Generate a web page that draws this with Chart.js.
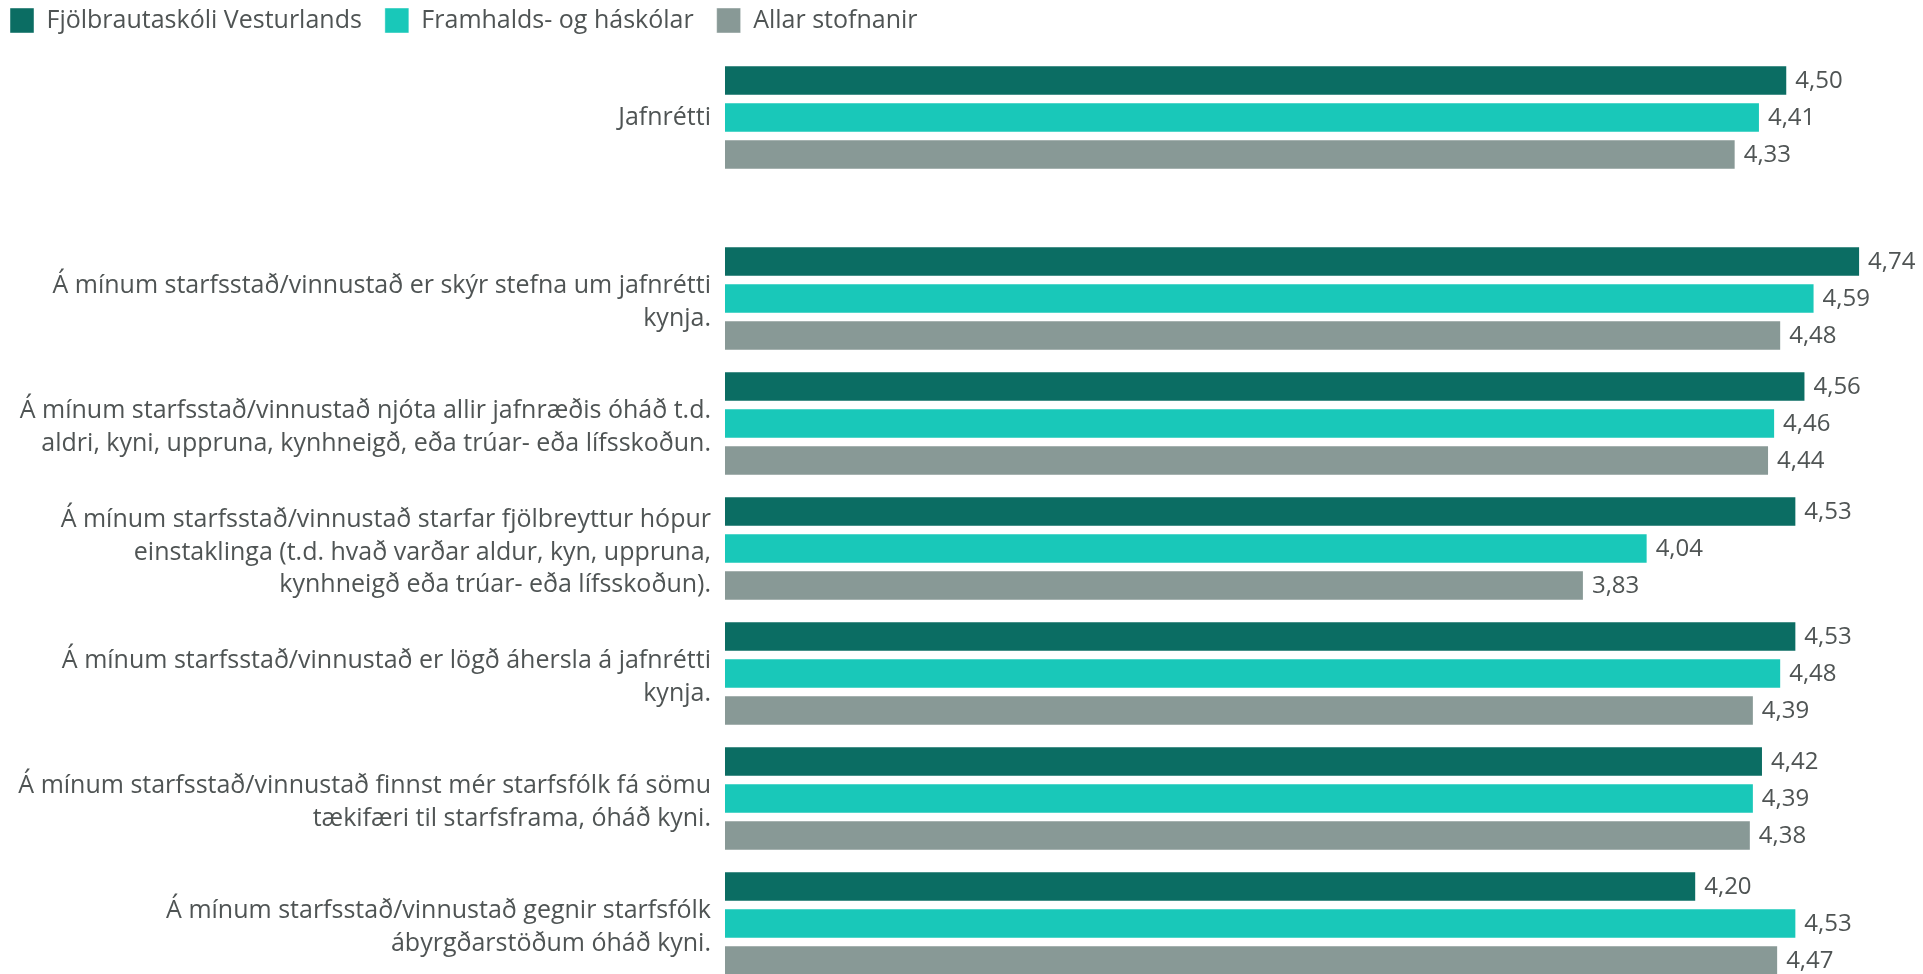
<!DOCTYPE html>
<html>
<head>
<meta charset="utf-8">
<script src="https://cdn.jsdelivr.net/npm/chart.js@4.4.1/dist/chart.umd.min.js"></script>
<style>
  html, body { margin: 0; padding: 0; background: #fff; overflow: hidden; }
  #wrap { position: relative; width: 1923px; height: 974px; overflow: hidden; }
  #topChart { position: absolute; left: -13px; top: -15px; }
  #itemChart { position: absolute; left: 0; top: 236px; }
</style>
</head>
<body>
<div id="wrap">
  <canvas id="topChart" width="1952" height="195"></canvas>
  <canvas id="itemChart" width="1939" height="750"></canvas>
</div>
<script>
// Jafnrétti - survey means, three groups

var categories = [
  ['Jafnrétti'],
  ['Á mínum starfsstað/vinnustað er skýr stefna um jafnrétti', 'kynja.'],
  ['Á mínum starfsstað/vinnustað njóta allir jafnræðis óháð t.d.', 'aldri, kyni, uppruna, kynhneigð, eða trúar- eða lífsskoðun.'],
  ['Á mínum starfsstað/vinnustað starfar fjölbreyttur hópur', 'einstaklinga (t.d. hvað varðar aldur, kyn, uppruna,', 'kynhneigð eða trúar- eða lífsskoðun).'],
  ['Á mínum starfsstað/vinnustað er lögð áhersla á jafnrétti', 'kynja.'],
  ['Á mínum starfsstað/vinnustað finnst mér starfsfólk fá sömu', 'tækifæri til starfsframa, óháð kyni.'],
  ['Á mínum starfsstað/vinnustað gegnir starfsfólk', 'ábyrgðarstöðum óháð kyni.']
];

var seriesNames = ['Fjölbrautaskóli Vesturlands', 'Framhalds- og háskólar', 'Allar stofnanir'];

var fjolbrautValues = [4.50, 4.74, 4.56, 4.53, 4.53, 4.42, 4.20];
var framhaldsValues = [4.41, 4.59, 4.46, 4.04, 4.48, 4.39, 4.53];
var allarValues = [4.33, 4.48, 4.44, 3.83, 4.39, 4.38, 4.47];

var seriesColors = ['#0b6d63', '#19c8b9', '#889996'];
var textColor = '#4f5454';
var fontFamily = '"Open Sans", "Noto Sans", sans-serif';

// number labels at the end of every bar, comma as decimal sign
var valueLabels = {
  id: 'valueLabels',
  afterDatasetsDraw: function (chart) {
    var ctx = chart.ctx;
    ctx.save();
    ctx.font = '24px ' + fontFamily;
    ctx.fillStyle = textColor;
    ctx.textAlign = 'left';
    ctx.textBaseline = 'middle';
    chart.data.datasets.forEach(function (ds, i) {
      chart.getDatasetMeta(i).data.forEach(function (bar, j) {
        var txt = ds.data[j].toFixed(2).replace('.', ',');
        ctx.fillText(txt, bar.x + 8, bar.y + 1);
      });
    });
    ctx.restore();
  }
};

function buildDatasets(from, to) {
  var all = [fjolbrautValues, framhaldsValues, allarValues];
  return all.map(function (values, i) {
    return {
      label: seriesNames[i],
      data: values.slice(from, to),
      backgroundColor: seriesColors[i],
      borderColor: 'rgba(255, 255, 255, 0.45)',
      borderWidth: 1,
      categoryPercentage: 0.888,
      barPercentage: 0.82
    };
  });
}

function buildOptions(axisWidth, showLegend) {
  return {
    indexAxis: 'y',
    responsive: false,
    animation: false,
    layout: { padding: 0 },
    scales: {
      x: {
        display: showLegend,
        position: 'top',
        min: 1,
        max: 5,
        ticks: { display: false },
        grid: { display: false },
        border: { display: false },
        afterFit: function (scale) {
          // small gap between legend and bars in the top chart only
          scale.height = showLegend ? 12 : 0;
        }
      },
      y: {
        grid: { display: false, drawTicks: false },
        border: { display: false },
        ticks: {
          padding: 14,
          labelOffset: showLegend ? 0 : 4,
          color: textColor,
          font: { family: fontFamily, size: 25, lineHeight: 1.3 }
        },
        afterFit: function (scale) {
          // labels may overflow the band, the bars should not shrink for it
          scale.width = axisWidth;
          scale.paddingTop = 0;
          scale.paddingBottom = 0;
        }
      }
    },
    plugins: {
      legend: {
        display: showLegend,
        position: 'top',
        align: 'start',
        labels: {
          boxWidth: 24,
          boxHeight: 25,
          padding: 23,
          color: textColor,
          font: { family: fontFamily, size: 25 }
        }
      },
      tooltip: { enabled: false }
    }
  };
}

new Chart(document.getElementById('topChart'), {
  type: 'bar',
  data: { labels: categories.slice(0, 1), datasets: buildDatasets(0, 1) },
  options: buildOptions(738, true),
  plugins: [valueLabels]
});

new Chart(document.getElementById('itemChart'), {
  type: 'bar',
  data: { labels: categories.slice(1), datasets: buildDatasets(1, 7) },
  options: buildOptions(725, false),
  plugins: [valueLabels]
});
</script>
</body>
</html>
